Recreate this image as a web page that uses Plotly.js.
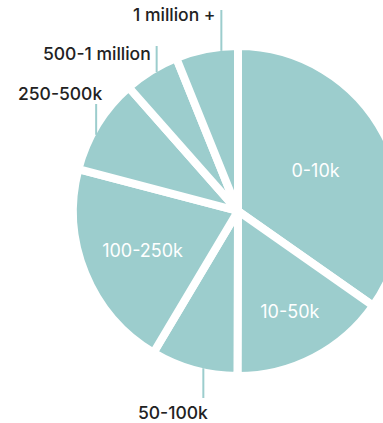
<!DOCTYPE html>
<html>
<head>
<meta charset="utf-8">
<script src="https://cdn.plot.ly/plotly-3.0.1.min.js"></script>
<style>
html,body{margin:0;padding:0;overflow:hidden;background:#fff;width:383px;height:423px;}
#chart{width:425px;height:423px;}
</style>
</head>
<body>
<div id="chart"></div>
<script>
const labels = ["0-10k", "10-50k", "50-100k", "100-250k", "250-500k", "500-1 million", "1 million +"];
const values = [34.7, 15.3, 8.5, 20.5, 9.4, 5.4, 6.1];
const insideLabels = ["0-10k", "10-50k", "100-250k"];

const sliceColor = "#9ccdcd";
const W = 425, H = 423;
const M = {l: 73, r: 22, t: 46, b: 47};
const lineW = 8;

// placement of the outside labels (style, not data)
const outside = {
  "50-100k":       {at: 0.40, endY: 398, tx: 7,  ty: 14},
  "250-500k":      {at: 0.40, endY: 104, tx: 8,  ty: -11},
  "500-1 million": {at: 0.57, endY: 46,  tx: -4, ty: 7},
  "1 million +":   {at: 0.73, endY: 10,  tx: -3, ty: 5}
};

const plotW = W - M.l - M.r, plotH = H - M.t - M.b;
const cx = M.l + plotW / 2, cy = M.t + plotH / 2;
const R = Math.min(plotW, plotH) / 2 - lineW / 2;
const px2x = p => (p - M.l) / plotW;
const py2y = p => 1 - (p - M.t) / plotH;

const total = values.reduce((a, b) => a + b, 0);
const shapes = [], annotations = [];
let cum = 0;
labels.forEach((lab, i) => {
  const start = cum / total * 360;
  cum += values[i];
  const end = cum / total * 360;
  const o = outside[lab];
  if (!o) return;
  const th = (start + (end - start) * o.at) * Math.PI / 180;
  const ex = cx + R * Math.sin(th), ey = cy - R * Math.cos(th);
  shapes.push({type: "line", xref: "paper", yref: "paper",
    x0: px2x(ex), y0: py2y(ey), x1: px2x(ex), y1: py2y(o.endY),
    line: {color: sliceColor, width: 2}});
  annotations.push({xref: "paper", yref: "paper", showarrow: false,
    x: px2x(ex + o.tx), y: py2y(o.endY + o.ty),
    xanchor: "right", yanchor: "middle", text: lab,
    font: {family: "Inter, sans-serif", size: 17.5, color: "#222222", weight: 500}});
});

Plotly.newPlot("chart", [{
  type: "pie",
  labels: labels,
  values: values,
  sort: false,
  direction: "clockwise",
  rotation: 0,
  textinfo: "label",
  textposition: labels.map(l => insideLabels.includes(l) ? "inside" : "none"),
  insidetextorientation: "horizontal",
  marker: {colors: labels.map(() => sliceColor), line: {color: "#ffffff", width: lineW}},
  insidetextfont: {family: "Inter, sans-serif", size: 18, color: "#ffffff"},
  showlegend: false,
  hoverinfo: "none",
  automargin: false
}], {
  width: W,
  height: H,
  margin: M,
  paper_bgcolor: "#ffffff",
  showlegend: false,
  shapes: shapes,
  annotations: annotations
}, {staticPlot: true, displayModeBar: false});
</script>
</body>
</html>
